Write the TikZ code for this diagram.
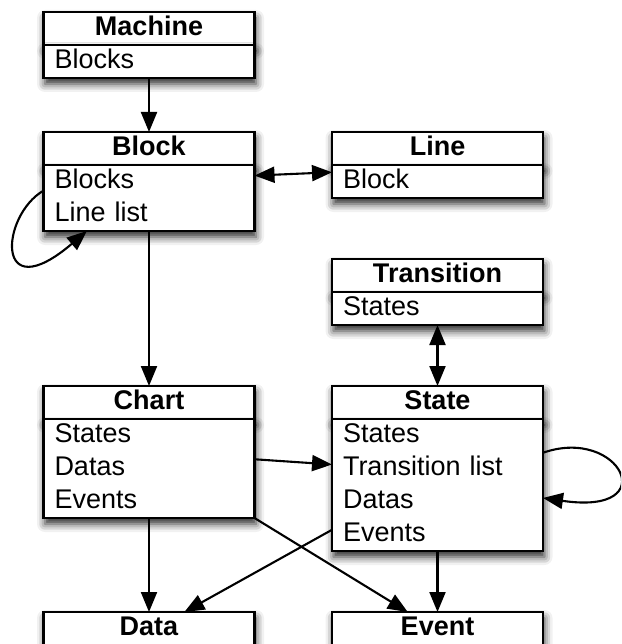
\documentclass[tikz,border=0pt]{standalone}
\usepackage{fontspec}
\setmainfont{Liberation Sans}
\usetikzlibrary{positioning,arrows.meta,shadows.blur}

% one text row of a class box
\newcommand{\rowstrut}{\rule[-9.5pt]{0pt}{33pt}}

\tikzset{
  classbox/.style={draw, fill=white, line width=2.6pt, outer sep=0pt,
    blur shadow={shadow xshift=1.5pt, shadow yshift=-6pt, shadow blur radius=8pt, shadow opacity=85}},
  head/.style={classbox, minimum width=211pt, minimum height=33pt, inner sep=0pt,
    text height=20pt, text depth=6pt, font=\fontsize{27}{33}\selectfont\bfseries},
  body/.style={classbox, text width=189pt, inner xsep=11pt, inner ysep=0pt, align=left,
    font=\fontsize{27}{33}\selectfont},
  tip/.tip={Triangle[length=20pt,width=16pt]},
  arr/.style={line width=2.1pt, -tip},
  darr/.style={line width=2.1pt, tip-tip},
}

\begin{document}
\begin{tikzpicture}[x=1pt, y=-1pt]
  \useasboundingbox (0,0) rectangle (621,644);
  \clip (0,0) rectangle (621,644);

  % left column
  \node[head, anchor=north] (machine) at (149,12) {Machine};
  \node[body, below=0pt of machine] (machineb) {\rowstrut Blocks};

  \node[head, anchor=north] (block) at (149,132) {Block};
  \node[body, below=0pt of block] (blockb) {\rowstrut Blocks\\\rowstrut Line list};

  \node[head, anchor=north] (chart) at (149,386) {Chart};
  \node[body, below=0pt of chart] (chartb) {\rowstrut States\\\rowstrut Datas\\\rowstrut Events};

  \node[head, anchor=north] (data) at (149,612) {Data};

  % right column
  \node[head, anchor=north] (line) at (437.5,132) {Line};
  \node[body, below=0pt of line] (lineb) {\rowstrut Block};

  \node[head, anchor=north] (transition) at (437.5,259) {Transition};
  \node[body, below=0pt of transition] (transitionb) {\rowstrut States};

  \node[head, anchor=north] (state) at (437.5,386) {State};
  \node[body, below=0pt of state] (stateb) {\rowstrut States\\\rowstrut Transition list\\\rowstrut Datas\\\rowstrut Events};

  \node[head, anchor=north] (event) at (437.5,612) {Event};

  % links
  \draw[arr] (machineb.south) -- (block.north);
  \draw[darr] (blockb.12) -- (lineb.175);
  \draw[arr] (blockb.176) .. controls +(-43,25) and +(-93,79) .. (blockb.208);
  \draw[arr] (blockb.south) -- (chart.north);
  \draw[darr] (transitionb.south) -- (state.north);
  \draw[arr] (chartb.5) -- (stateb.169);
  \draw[arr] (stateb.17) .. controls +(77,-27) and +(122,18) .. (stateb.-7);
  \draw[arr] (chartb.south) -- (data.north);
  \draw[arr] (chartb.south east) -- (event.151);
  \draw[arr] (stateb.203) -- (data.25);
  \draw[arr] (stateb.south) -- (event.north);
\end{tikzpicture}
\end{document}
